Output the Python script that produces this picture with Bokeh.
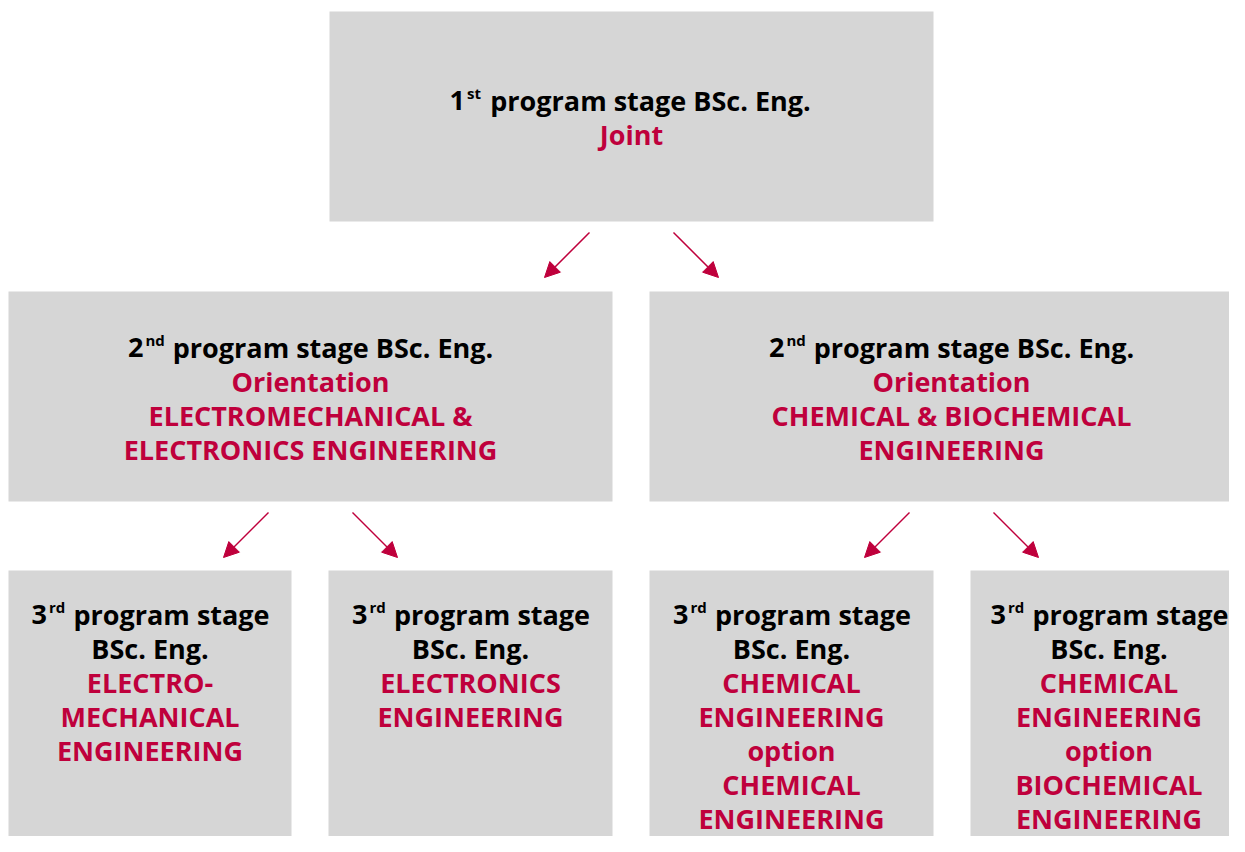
from bokeh.plotting import figure
from bokeh.models import Range1d, Arrow, NormalHead, ColumnDataSource
from bokeh.core.properties import value
from bokeh.embed import file_html
from bokeh.resources import INLINE

# ---------------- content ----------------
stage_numbers = ["1", "2", "2", "3", "3", "3", "3"]
stage_suffixes = ["st", "nd", "nd", "rd", "rd", "rd", "rd"]
black_lines = [
    ["program stage BSc. Eng."],
    ["program stage BSc. Eng."],
    ["program stage BSc. Eng."],
    ["program stage", "BSc. Eng."],
    ["program stage", "BSc. Eng."],
    ["program stage", "BSc. Eng."],
    ["program stage", "BSc. Eng."],
]
red_lines = [
    ["Joint"],
    ["Orientation", "ELECTROMECHANICAL &", "ELECTRONICS ENGINEERING"],
    ["Orientation", "CHEMICAL & BIOCHEMICAL", "ENGINEERING"],
    ["ELECTRO-", "MECHANICAL", "ENGINEERING"],
    ["ELECTRONICS", "ENGINEERING"],
    ["CHEMICAL", "ENGINEERING", "option", "CHEMICAL", "ENGINEERING"],
    ["CHEMICAL", "ENGINEERING", "option", "BIOCHEMICAL", "ENGINEERING"],
]
parent = [None, 0, 0, 1, 1, 2, 2]

# ---------------- layout (pixel space) ----------------
box_left = [329, 8, 649, 8, 328, 649, 970]
box_right = [933, 612, 1253, 291, 612, 933, 1253]
box_top = [11, 291, 291, 570, 570, 570, 570]
box_bottom = [221, 501, 501, 900, 900, 900, 900]
first_baseline = [100, 347, 347, 614, 614, 614, 614]
text_dx = [0, 0, 0, 0, 0, 0, -3]
line_step = 34

# approximate rendered widths (px) used to place number + superscript
rest_width = {"program stage BSc. Eng.": 319, "program stage": 195}
prefix_width = {"st": 38, "nd": 45, "rd": 43}
sup_width = {"st": 14, "nd": 18, "rd": 15}

GREY = "#d6d6d6"
RED = "#bf003c"
FONT = "Open Sans"
SIZE = "27px"
SUP = "15px"

W, H = 1229, 836
p = figure(width=W, height=H, output_backend="svg", toolbar_location=None,
           x_range=Range1d(0, W), y_range=Range1d(H, 0),
           min_border=0, outline_line_color=None, background_fill_color="white")
p.axis.visible = False
p.grid.visible = False

# boxes
p.quad(left=box_left, right=box_right, top=box_top, bottom=box_bottom,
       fill_color=GREY, line_color=None)

# texts
main_x, main_y, main_t, main_c = [], [], [], []
num_x, num_y, num_t, s_x, s_y, s_t = [], [], [], [], [], []
for i in range(len(box_left)):
    cx = (box_left[i] + box_right[i]) / 2 + text_dx[i]
    y = first_baseline[i]
    lines = black_lines[i]
    suf = stage_suffixes[i]
    rest_cx = cx + prefix_width[suf] / 2
    main_x.append(rest_cx); main_y.append(y); main_t.append(lines[0]); main_c.append("black")
    rest_left = rest_cx - rest_width[lines[0]] / 2
    sx = rest_left - (sup_width[suf] + 10)
    s_x.append(sx); s_y.append(y - 8); s_t.append(suf)
    num_x.append(sx - 2); num_y.append(y); num_t.append(stage_numbers[i])
    for ln in lines[1:]:
        y += line_step
        main_x.append(cx); main_y.append(y); main_t.append(ln); main_c.append("black")
    for ln in red_lines[i]:
        y += line_step
        main_x.append(cx); main_y.append(y); main_t.append(ln); main_c.append(RED)

src = ColumnDataSource(dict(x=main_x, y=main_y, text=main_t, color=main_c))
p.text(x="x", y="y", text="text", source=src, text_color="color",
       text_font=value(FONT), text_font_style="bold", text_font_size=SIZE,
       text_align="center", text_baseline="alphabetic")
p.text(x=num_x, y=num_y, text=num_t, text_color="black",
       text_font=value(FONT), text_font_style="bold", text_font_size=SIZE,
       text_align="right", text_baseline="alphabetic")
p.text(x=s_x, y=s_y, text=s_t, text_color="black",
       text_font=value(FONT), text_font_style="bold", text_font_size=SUP,
       text_align="left", text_baseline="alphabetic")

# arrows
xs, ys, xe, ye = [], [], [], []
for i, par in enumerate(parent):
    if par is None:
        continue
    pcx = (box_left[par] + box_right[par]) / 2
    ccx = (box_left[i] + box_right[i]) / 2
    sgn = -1 if ccx < pcx else 1
    xs.append(pcx + sgn * 42); ys.append(box_bottom[par] + 11 if par == 0 else 512)
    xe.append(pcx + sgn * 87); ye.append(box_bottom[par] + 56 if par == 0 else 557)
asrc = ColumnDataSource(dict(xs=xs, ys=ys, xe=xe, ye=ye))
p.add_layout(Arrow(end=NormalHead(size=15, fill_color=RED, line_color=RED),
                   x_start="xs", y_start="ys", x_end="xe", y_end="ye",
                   source=asrc, line_color=RED, line_width=1.5))

open("out.html", "w").write(file_html(p, INLINE))
